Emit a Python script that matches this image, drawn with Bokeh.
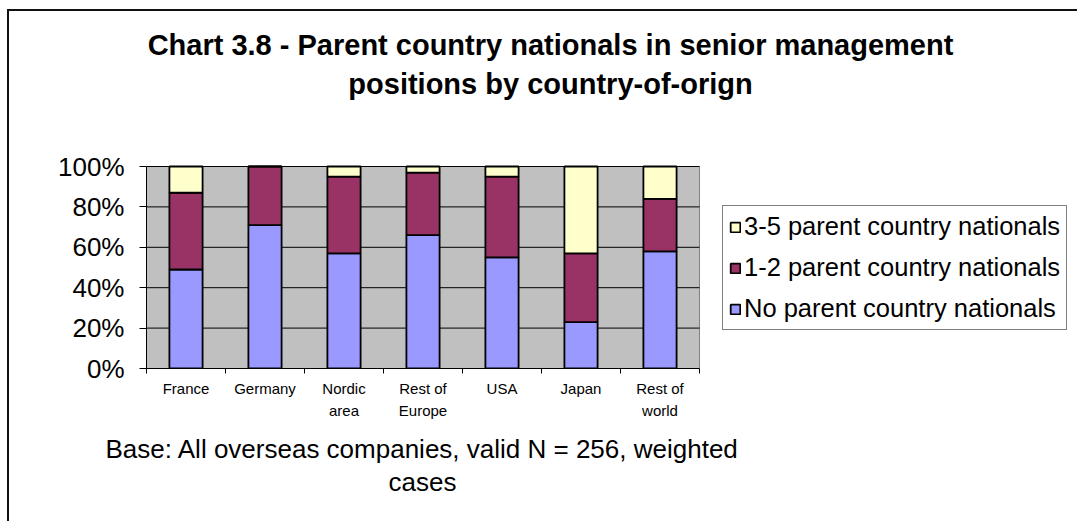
from bokeh.plotting import figure
from bokeh.models import (ColumnDataSource, FixedTicker, PrintfTickFormatter, Legend,
                          LegendItem, Title, Label)
from bokeh.embed import file_html
from bokeh.resources import INLINE

categories = ["France", "Germany", "Nordic area", "Rest of Europe", "USA", "Japan", "Rest of world"]
tick_labels = ["France", "Germany", "Nordic\narea", "Rest of\nEurope", "USA", "Japan", "Rest of\nworld"]
no_pcn = [49, 71, 57, 66, 55, 23, 58]
one_two_pcn = [38, 29, 38, 31, 40, 34, 26]
three_five_pcn = [13, 0, 5, 3, 5, 43, 16]
series_names = ["No parent country nationals", "1-2 parent country nationals", "3-5 parent country nationals"]
y_ticks = [0, 20, 40, 60, 80, 100]

title_lines = ["Chart 3.8 - Parent country nationals in senior management",
               "positions by country-of-orign"]
caption_lines = ["Base: All overseas companies, valid N = 256, weighted", "cases"]

colors = ["#9999FF", "#993366", "#FFFFCC"]
FONT = "Liberation Sans"

# layout geometry (pixels)
W, H = 1070, 512
LEFT, BOTTOM = 137, 155
PLOT_W, PLOT_H = 553, 202          # size of the grey plot area
FRAME_W, FRAME_H = W - LEFT, H - BOTTOM

n = len(categories)
x_lo, x_hi = -0.5, n - 0.5
y_lo, y_hi = y_ticks[0], y_ticks[-1]
x_end = x_lo + (x_hi - x_lo) * FRAME_W / PLOT_W
y_end = y_lo + (y_hi - y_lo) * FRAME_H / PLOT_H

xs = list(range(n))
source = ColumnDataSource(dict(x=xs, none=no_pcn, onetwo=one_two_pcn, threefive=three_five_pcn))

p = figure(width=W, height=H, output_backend="svg", toolbar_location=None,
           x_range=(x_lo, x_end), y_range=(y_lo, y_end),
           min_border_left=LEFT, min_border_right=0, min_border_top=0, min_border_bottom=BOTTOM)
p.styles = {"border-left": "2px solid #111", "border-top": "2px solid #111",
            "margin-left": "7px", "margin-top": "9px"}
p.title.text = ""
p.background_fill_color = "white"
p.border_fill_color = "white"
p.outline_line_color = None
p.xgrid.visible = False
p.ygrid.visible = False

# grey plot area and horizontal grid lines
p.quad(left=[x_lo], right=[x_hi], bottom=[y_lo], top=[y_hi], fill_color="#C0C0C0",
       line_color="#808080", line_width=1, level="image")
p.segment(x0=[x_lo] * (len(y_ticks) - 1), x1=[x_hi] * (len(y_ticks) - 1),
          y0=y_ticks[1:], y1=y_ticks[1:], line_color="black", line_width=1, level="underlay")

rs = p.vbar_stack(["none", "onetwo", "threefive"], x="x", width=0.42, source=source,
                  fill_color=colors, line_color="black", line_width=1.8)

# y axis
p.yaxis.bounds = (y_lo, y_hi)
p.yaxis.ticker = FixedTicker(ticks=y_ticks)
p.yaxis.formatter = PrintfTickFormatter(format="%d%%")
p.yaxis.major_tick_out = 7
p.yaxis.major_tick_in = 0
p.yaxis.minor_tick_out = 0
p.yaxis.minor_tick_in = 0
p.yaxis.major_label_standoff = 15
p.yaxis.major_label_text_font = FONT
p.yaxis.major_label_text_font_size = "26px"
p.yaxis.major_label_text_color = "black"
p.yaxis.axis_line_color = "black"
p.yaxis.major_tick_line_color = "black"

# x axis: labels at category centres, ticks between categories
boundaries = [i - 0.5 for i in range(n + 1)]
p.xaxis.bounds = (x_lo, x_hi)
p.xaxis.ticker = FixedTicker(ticks=xs, minor_ticks=boundaries)
p.xaxis.major_label_overrides = {i: lab for i, lab in zip(xs, tick_labels)}
p.xaxis.major_tick_out = 0
p.xaxis.major_tick_in = 0
p.xaxis.minor_tick_out = 5
p.xaxis.minor_tick_in = 0
p.xaxis.minor_tick_line_color = "black"
p.xaxis.major_label_standoff = 6
p.xaxis.major_label_text_font = FONT
p.xaxis.major_label_text_font_size = "15px"
p.xaxis.major_label_text_line_height = 1.3
p.xaxis.major_label_text_color = "black"
p.xaxis.axis_line_color = "black"

# legend (reverse order as in reference)
items = [LegendItem(label=series_names[i], renderers=[rs[i]]) for i in (2, 1, 0)]
legend = Legend(items=items, location=(576, 38), orientation="vertical",
                glyph_width=12, glyph_height=12, label_standoff=3, spacing=12,
                padding=6, margin=0, border_line_color="black", border_line_width=1,
                background_fill_color="white", background_fill_alpha=1,
                label_text_font=FONT, label_text_font_size="25.5px", label_text_color="black")
p.add_layout(legend)

# chart title (inside the frame area, screen units from the frame's bottom-left)
for txt, yy in zip(title_lines, [324, 285]):
    p.add_layout(Label(x=404, y=yy, x_units="screen", y_units="screen", text=txt,
                       text_align="center", text_baseline="alphabetic",
                       text_font=FONT, text_font_style="bold", text_font_size="29px",
                       text_color="black"))

# caption below the x axis
c1 = Title(text=caption_lines[0], align="left", offset=-41, standoff=21,
           text_font=FONT, text_font_style="normal", text_font_size="26px", text_color="black")
c2 = Title(text=caption_lines[1], align="left", offset=242, standoff=-19,
           text_font=FONT, text_font_style="normal", text_font_size="26px", text_color="black")
p.add_layout(c1, "below")
p.add_layout(c2, "below")

open("out.html", "w").write(file_html(p, INLINE))
